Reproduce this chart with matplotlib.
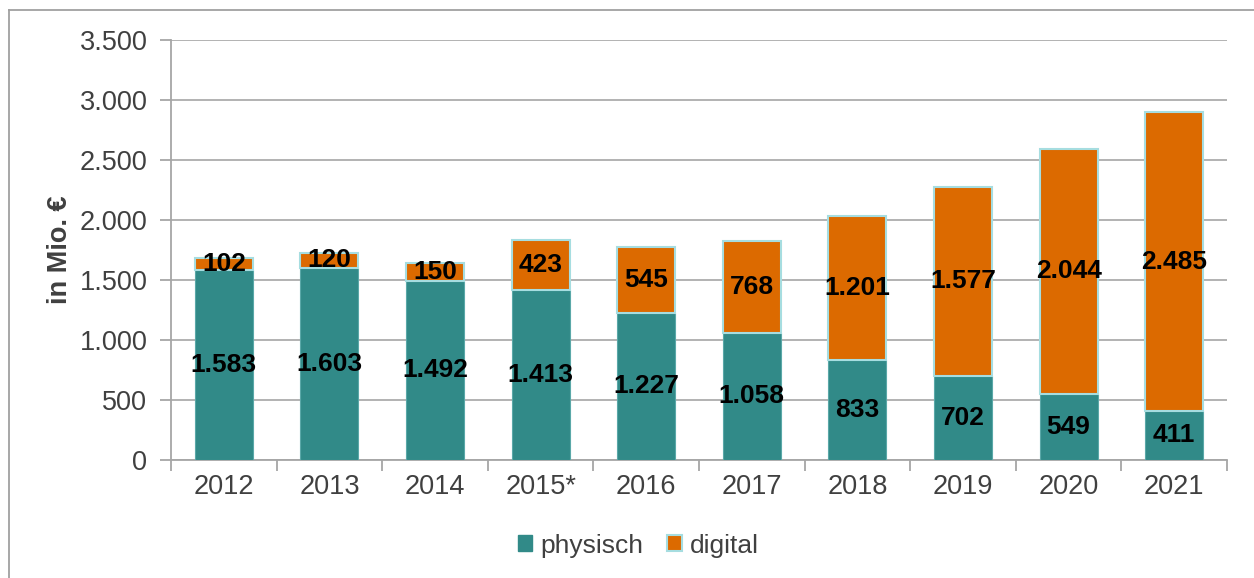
import matplotlib
matplotlib.use('Agg')
import matplotlib.pyplot as plt
from matplotlib.lines import Line2D

years = ['2012', '2013', '2014', '2015*', '2016', '2017', '2018', '2019', '2020', '2021']
physisch = [1583, 1603, 1492, 1413, 1227, 1058, 833, 702, 549, 411]
digital = [102, 120, 150, 423, 545, 768, 1201, 1577, 2044, 2485]

teal = '#318a88'
orange = '#dc6a00'
edge = '#a6dde0'
gray_text = '#404040'
grid_col = '#a6a6a6'


def fmt(v):
    return '{:,}'.format(v).replace(',', '.')


plt.rcParams['font.family'] = ['Liberation Sans', 'DejaVu Sans']

fig = plt.figure(figsize=(12.54, 5.78), dpi=100)
ax = fig.add_axes([0.1364, 0.2042, 0.8421, 0.7266])

x = range(len(years))
ax.bar(x, physisch, width=0.55, color=teal, edgecolor='#5aa8a8', linewidth=0.8, zorder=3, label='physisch')
ax.bar(x, digital, width=0.55, bottom=physisch, color=orange, edgecolor=edge, linewidth=1.5, zorder=3, label='digital')

# value labels centred in each segment
for i in x:
    ax.text(i, physisch[i] / 2, fmt(physisch[i]), ha='center', va='center',
            fontsize=19, fontweight='bold', color='black', zorder=4)
    ax.text(i, physisch[i] + digital[i] / 2, fmt(digital[i]), ha='center', va='center',
            fontsize=19, fontweight='bold', color='black', zorder=4)

ax.set_xlim(-0.5, len(years) - 0.5)
ax.set_ylim(0, 3500)
ax.set_yticks(range(0, 3501, 500))
ax.set_yticklabels([fmt(v) for v in range(0, 3501, 500)])
ax.set_xticks(list(x))
ax.set_xticklabels(years)
ax.set_xticks([i - 0.5 for i in range(len(years) + 1)], minor=True)

ax.grid(axis='y', color=grid_col, linewidth=1.2, zorder=0)
for s in ['top', 'right']:
    ax.spines[s].set_visible(False)
for s in ['left', 'bottom']:
    ax.spines[s].set_color(grid_col)
    ax.spines[s].set_linewidth(1.3)

ax.tick_params(axis='y', colors=grid_col, labelcolor=gray_text, labelsize=19.5, length=8, width=1.3, pad=9)
ax.tick_params(axis='x', which='major', length=0, labelcolor=gray_text, labelsize=19.5, pad=10)
ax.tick_params(axis='x', which='minor', length=8, width=1.3, color=grid_col)

ax.set_ylabel('in Mio. €', fontsize=19.5, fontweight='bold', color=gray_text, labelpad=5)

handles = [plt.Rectangle((0, 0), 1, 1, facecolor=teal, edgecolor=teal),
           plt.Rectangle((0, 0), 1, 1, facecolor=orange, edgecolor=edge, linewidth=1.5)]
fig.legend(handles, ['physisch', 'digital'], loc='center', bbox_to_anchor=(0.509, 0.056),
           ncol=2, frameon=False, fontsize=19, handlelength=0.55, handleheight=0.55,
           handletextpad=0.3, columnspacing=0.9, labelcolor=gray_text)

# frame of the figure (left and top only visible)
fig.add_artist(Line2D([0.0072, 0.0072], [0, 0.983], color='#a0a0a0', linewidth=1.3, transform=fig.transFigure))
fig.add_artist(Line2D([0.0072, 1.0], [0.983, 0.983], color='#a0a0a0', linewidth=1.3, transform=fig.transFigure))

fig.savefig('out.png', dpi=100)
